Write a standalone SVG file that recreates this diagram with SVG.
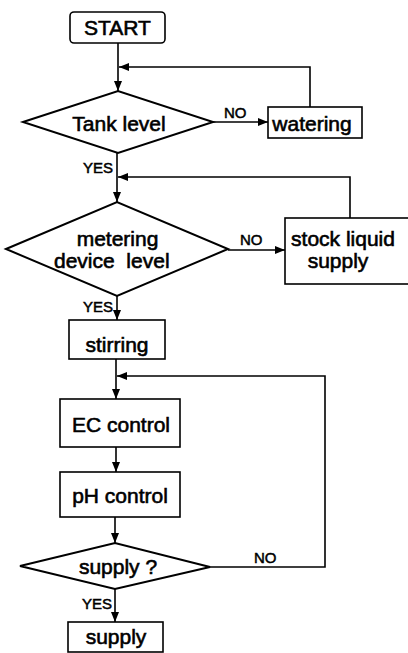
<svg xmlns="http://www.w3.org/2000/svg" width="408" height="653" viewBox="0 0 408 653">
<style>
  .box { fill: #fff; stroke: #000; stroke-width: 1.6; }
  .dia { fill: #fff; stroke: #000; stroke-width: 2; }
  .t { font-family: "Liberation Sans", Arial, sans-serif; font-size: 21px; fill: #000; stroke: #000; stroke-width: 0.6; text-anchor: middle; }
  .lbl { font-family: "Liberation Sans", Arial, sans-serif; font-size: 15px; fill: #000; stroke: #000; stroke-width: 0.5; }
  .c { fill: none; stroke: #000; stroke-width: 1.6; }
</style>
<defs>
  <marker id="ah" markerUnits="userSpaceOnUse" markerWidth="10" markerHeight="8" refX="10" refY="4" orient="auto">
    <path d="M0,0 L10,4 L0,8 z" fill="#000"/>
  </marker>
</defs>
<rect width="408" height="653" fill="#fff"/>
<g id="connectors">
  <line class="c" x1="118" y1="43" x2="118" y2="91" marker-end="url(#ah)"/>
  <polyline class="c" points="310,107 310,67 119,67" marker-end="url(#ah)"/>
  <line class="c" x1="213" y1="122" x2="268" y2="122" marker-end="url(#ah)"/>
  <text class="lbl" x="224" y="118">NO</text>
  <line class="c" x1="117" y1="153" x2="117" y2="202" marker-end="url(#ah)"/>
  <text class="lbl" x="113" y="173" text-anchor="end">YES</text>
  <polyline class="c" points="350,218 350,177 118,177" marker-end="url(#ah)"/>
  <line class="c" x1="228" y1="250" x2="285" y2="250" marker-end="url(#ah)"/>
  <text class="lbl" x="240" y="245">NO</text>
  <line class="c" x1="117" y1="296" x2="117" y2="320" marker-end="url(#ah)"/>
  <text class="lbl" x="113" y="312" text-anchor="end">YES</text>
  <line class="c" x1="116" y1="359" x2="116" y2="399" marker-end="url(#ah)"/>
  <polyline class="c" points="210,567 325,567 325,376 117,376" marker-end="url(#ah)"/>
  <text class="lbl" x="254" y="563">NO</text>
  <line class="c" x1="116" y1="447" x2="116" y2="472" marker-end="url(#ah)"/>
  <line class="c" x1="115" y1="517" x2="115" y2="543" marker-end="url(#ah)"/>
  <line class="c" x1="115" y1="589" x2="115" y2="622" marker-end="url(#ah)"/>
  <text class="lbl" x="112" y="609" text-anchor="end">YES</text>
</g>
<g id="start">
  <rect class="box" x="70" y="12" width="95" height="31" rx="4"/>
  <text class="t" x="117.5" y="35">START</text>
</g>
<g id="tank-level">
  <polygon class="dia" points="23,122 118,91 213,122 118,153"/>
  <text class="t" x="119" y="131">Tank level</text>
</g>
<g id="watering">
  <rect class="box" x="268" y="107" width="94" height="31"/>
  <text class="t" x="312" y="131">watering</text>
</g>
<g id="metering-device-level">
  <polygon class="dia" points="6,249 117,202 228,249 117,296"/>
  <text class="t" x="117.5" y="246">metering</text>
  <text class="t" x="54" y="268" xml:space="preserve" style="text-anchor:start;white-space:pre">device  level</text>
</g>
<g id="stock-liquid-supply">
  <rect class="box" x="285" y="218" width="126" height="66"/>
  <text class="t" x="343" y="246">stock liquid</text>
  <text class="t" x="338" y="268">supply</text>
</g>
<g id="stirring">
  <rect class="box" x="69" y="320" width="96" height="39"/>
  <text class="t" x="117" y="352">stirring</text>
</g>
<g id="ec-control">
  <rect class="box" x="60" y="399" width="120" height="48"/>
  <text class="t" x="121" y="432">EC control</text>
</g>
<g id="ph-control">
  <rect class="box" x="60" y="472" width="120" height="45"/>
  <text class="t" x="120" y="503">pH control</text>
</g>
<g id="supply-decision">
  <polygon class="dia" points="20,566 115,543 210,567 115,589"/>
  <text class="t" x="118" y="574">supply ?</text>
</g>
<g id="supply">
  <rect class="box" x="68" y="622" width="95" height="30"/>
  <text class="t" x="116" y="644">supply</text>
</g>
</svg>
